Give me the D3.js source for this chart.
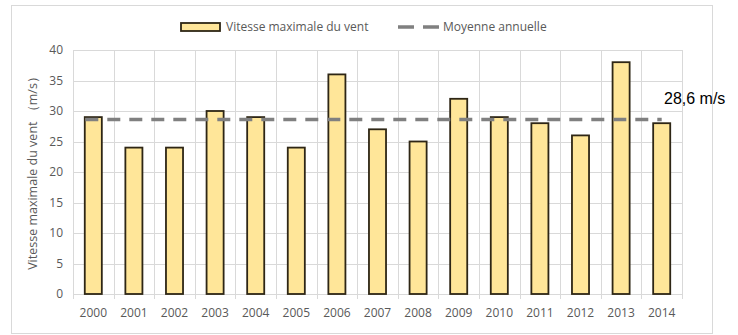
<!DOCTYPE html>
<html>
<head>
<meta charset="utf-8">
<script src="https://cdn.jsdelivr.net/npm/d3@7"></script>
<style>
  body { margin: 0; background: #fff; }
  svg { display: block; }
</style>
</head>
<body>
<div id="chart"></div>
<script>
// data
var years = ["2000", "2001", "2002", "2003", "2004", "2005", "2006", "2007",
    "2008", "2009", "2010", "2011", "2012", "2013", "2014"];
var maxSpeed = [29, 24, 24, 30, 29, 24, 36, 27, 25, 32, 29, 28, 26, 38, 28];
var annualMean = 28.6;
var yTicks = [0, 5, 10, 15, 20, 25, 30, 35, 40];

var W = 738, H = 335;
var margin = { top: 50, right: 56, bottom: 41, left: 73 },
    width = W - margin.left - margin.right,
    height = H - margin.top - margin.bottom;

var root = d3.select("#chart").append("svg")
    .attr("width", W)
    .attr("height", H);

// outer frame
root.append("rect")
    .attr("x", 11.5).attr("y", 5.5)
    .attr("width", 701).attr("height", 328)
    .attr("fill", "#fff")
    .attr("stroke", "#d9d9d9");

var svg = root.append("g")
    .attr("transform", "translate(" + margin.left + "," + margin.top + ")");

var x = d3.scaleBand()
    .domain(years)
    .range([0, width])
    .paddingInner(0.58)
    .paddingOuter(0.29);

var y = d3.scaleLinear()
    .domain([0, 40])
    .range([height, 0]);

var font = "'Open Sans', 'Liberation Sans', sans-serif";

// horizontal gridlines
svg.append("g")
    .selectAll("line")
    .data(yTicks)
    .enter()
    .append("line")
    .attr("x1", 0).attr("x2", width)
    .attr("y1", d => Math.round(y(d)) + 0.5)
    .attr("y2", d => Math.round(y(d)) + 0.5)
    .attr("stroke", "#d9d9d9");

// vertical gridlines at category boundaries
var step = width / years.length;
svg.append("g")
    .selectAll("line")
    .data(d3.range(years.length + 1))
    .enter()
    .append("line")
    .attr("x1", d => Math.round(d * step) + 0.5)
    .attr("x2", d => Math.round(d * step) + 0.5)
    .attr("y1", 0).attr("y2", height + 5)
    .attr("stroke", "#d9d9d9");

// y tick labels
svg.append("g")
    .selectAll("text")
    .data(yTicks)
    .enter()
    .append("text")
    .attr("x", -10)
    .attr("y", d => y(d))
    .attr("dy", "0.35em")
    .attr("text-anchor", "end")
    .style("font-family", font)
    .style("font-size", "12px")
    .style("fill", "#595959")
    .text(d => d);

// x tick labels
svg.append("g")
    .selectAll("text")
    .data(years)
    .enter()
    .append("text")
    .attr("x", d => x(d) + x.bandwidth() / 2)
    .attr("y", height + 19)
    .attr("dy", "0.35em")
    .attr("text-anchor", "middle")
    .style("font-family", font)
    .style("font-size", "12px")
    .style("fill", "#595959")
    .text(d => d);

// bars
svg.append("g")
    .selectAll("rect")
    .data(maxSpeed)
    .enter()
    .append("rect")
    .attr("x", (d, i) => x(years[i]))
    .attr("y", d => y(d))
    .attr("width", x.bandwidth())
    .attr("height", d => height - y(d))
    .attr("fill", "#ffe699")
    .attr("stroke", "#2e2615")
    .attr("stroke-width", 1.8);

// mean line, from first to last category centre
svg.append("line")
    .attr("x1", x(years[0]) + x.bandwidth() / 2 - 8)
    .attr("x2", x(years[years.length - 1]) + x.bandwidth() / 2)
    .attr("y1", y(annualMean))
    .attr("y2", y(annualMean))
    .attr("stroke", "#808080")
    .attr("stroke-width", 3.5)
    .attr("stroke-dasharray", "13,9");

svg.append("text")
    .attr("x", width - 18)
    .attr("y", y(annualMean) - 21)
    .attr("dy", "0.35em")
    .style("font-family", "'Liberation Sans', sans-serif")
    .style("font-size", "16px")
    .style("fill", "#000")
    .text("28,6 m/s");

// y axis title
root.append("text")
    .attr("transform", "translate(33," + (margin.top + height / 2 - 2) + ") rotate(-90)")
    .attr("text-anchor", "middle")
    .attr("dy", "0.35em")
    .style("font-family", font)
    .style("font-size", "12.5px")
    .style("fill", "#595959")
    .text("Vitesse maximale du vent （m/s）");

// legend
var legend = root.append("g").attr("transform", "translate(0,27)");
legend.append("rect")
    .attr("x", 181).attr("y", -4)
    .attr("width", 39).attr("height", 8)
    .attr("fill", "#ffe699")
    .attr("stroke", "#2e2615")
    .attr("stroke-width", 1.8);
legend.append("text")
    .attr("x", 226).attr("y", 0)
    .attr("dy", "0.35em")
    .style("font-family", font)
    .style("font-size", "12px")
    .style("fill", "#595959")
    .text("Vitesse maximale du vent");
legend.append("line")
    .attr("x1", 398).attr("x2", 439)
    .attr("y1", 0).attr("y2", 0)
    .attr("stroke", "#808080")
    .attr("stroke-width", 3.5)
    .attr("stroke-dasharray", "16,9");
legend.append("text")
    .attr("x", 443).attr("y", 0)
    .attr("dy", "0.35em")
    .style("font-family", font)
    .style("font-size", "12px")
    .style("fill", "#595959")
    .text("Moyenne annuelle");
</script>
</body>
</html>
